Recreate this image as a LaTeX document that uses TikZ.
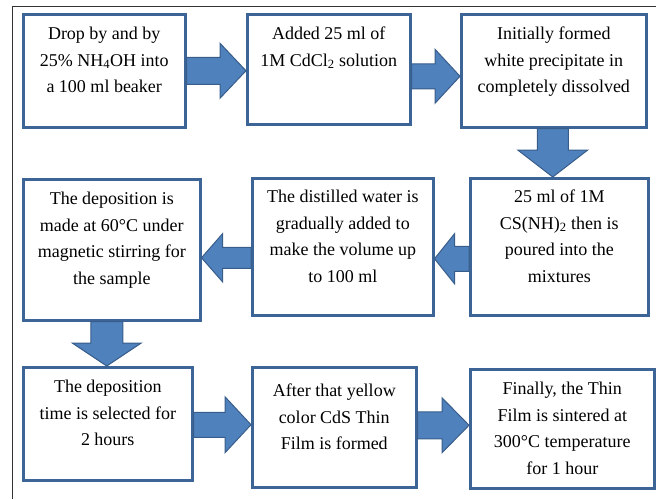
\documentclass[tikz,border=0pt]{standalone}
\usepackage{fontspec}
\setmainfont{Liberation Serif}
\usetikzlibrary{calc}
\definecolor{boxline}{HTML}{3C6497}
\definecolor{arrowblue}{HTML}{4F81BD}
\definecolor{arrowline}{HTML}{385D8A}

% 块状箭头: 起点, 终点, 箭杆半宽, 箭头半宽, 箭头长度
\newcommand{\blockarrow}[5]{%
    \path let \p1=(#1), \p2=(#2) in
        \pgfextra{\pgfmathsetmacro{\len}{veclen(\x2-\x1,\y2-\y1)}\xdef\arrlen{\len}%
                  \pgfmathsetmacro{\ang}{atan2(\y2-\y1,\x2-\x1)}\xdef\arrang{\ang}};
    \begin{scope}[shift={(#1)}, rotate=\arrang]
        \draw[block_arrow] (0pt,-#3pt) -- ({\arrlen pt-#5pt},-#3pt) -- ({\arrlen pt-#5pt},-#4pt)
            -- (\arrlen pt,0pt) -- ({\arrlen pt-#5pt},#4pt) -- ({\arrlen pt-#5pt},#3pt) -- (0pt,#3pt) -- cycle;
    \end{scope}
}

\begin{document}
\begin{tikzpicture}[x=1pt, y=-1pt]
        % ================= 样式定义 =================
        \tikzset{
            stepbox/.style={rectangle, draw=boxline, line width=2.5pt, fill=white, inner sep=0pt, anchor=north west},
            steptext/.style={anchor=north, align=center, inner sep=0pt, font=\fontsize{18}{26.5}\selectfont},
            block_arrow/.style={fill=arrowblue, draw=arrowline, line width=1pt, line join=miter},
            frame_line/.style={draw=black!80, line width=1pt}
        }
        \useasboundingbox (0,0) rectangle (656,499);

        % 外框 (只有上边和左边)
        \draw[frame_line] (12,499) -- (12,6) -- (656,6);

        % ================= 第一行 =================
        \node[stepbox, minimum width=162, minimum height=113] (b1) at (22,13) {};
        \node[stepbox, minimum width=163, minimum height=110] (b2) at (246,13) {};
        \node[stepbox, minimum width=185, minimum height=113] (b3) at (460,13) {};

        \node[steptext] (t1) at ($(b1.north)+(0,14)$) {Drop by and by\\25\% NH\textsubscript{4}OH into\\a 100 ml beaker};
        \node[steptext] (t2) at ($(b2.north)+(0,14)$) {Added 25 ml of\\1M CdCl\textsubscript{2} solution};
        \node[steptext] (t3) at ($(b3.north)+(0,14)$) {Initially formed\\white precipitate in\\completely dissolved};

        % ================= 第二行 =================
        \node[stepbox, minimum width=177, minimum height=141] (b4) at (22,178) {};
        \node[stepbox, minimum width=181, minimum height=137] (b5) at (251,177) {};
        \node[stepbox, minimum width=178, minimum height=137] (b6) at (469,177) {};

        \node[steptext] (t4) at ($(b4.north)+(0,14)$) {The deposition is\\made at 60°C under\\magnetic stirring for\\the sample};
        \node[steptext] (t5) at ($(b5.north)+(0,13)$) {The distilled water is\\gradually added to\\make the volume up\\to 100 ml};
        \node[steptext] (t6) at ($(b6.north)+(0,13)$) {25 ml of 1M\\CS(NH)\textsubscript{2} then is\\poured into the\\mixtures};

        % ================= 第三行 =================
        \node[stepbox, minimum width=169, minimum height=113] (b7) at (22,366) {};
        \node[stepbox, minimum width=164, minimum height=120] (b8) at (251,366) {};
        \node[stepbox, minimum width=184, minimum height=119] (b9) at (469,368) {};

        \node[steptext] (t7) at ($(b7.north)+(0,14)$) {The deposition\\time is selected for\\2 hours};
        \node[steptext] (t8) at ($(b8.north)+(0,18)$) {After that yellow\\color CdS Thin\\Film is formed};
        \node[steptext] (t9) at ($(b9.north)+(0,14)$) {Finally, the Thin\\Film is sintered at\\300°C temperature\\for 1 hour};

        % ================= 箭头 =================
        \coordinate (a1) at (b1.east);
        \coordinate (a2) at ($(b2.east)+(0,7)$);
        \coordinate (a3) at ($(b3.south)+(-1,0)$);
        \coordinate (a4) at ($(b6.west)+(0,12)$);
        \coordinate (a5) at ($(b5.west)+(0,11)$);
        \coordinate (a6) at ($(b4.south)+(-5,0)$);
        \coordinate (a7) at ($(b7.east)+(0,1)$);
        \coordinate (a8) at ($(b8.east)+(0,-2)$);

        \blockarrow{a1}{a1 -| b2.west}{13.5}{27.5}{26}
        \blockarrow{a2}{a2 -| b3.west}{12.5}{27}{25}
        \blockarrow{a3}{a3 |- b6.north}{15.5}{35}{27}
        \blockarrow{a4}{a4 -| b5.east}{12.5}{25}{20}
        \blockarrow{a5}{a5 -| b4.east}{10.5}{24}{21}
        \blockarrow{a6}{a6 |- b7.north}{16}{34.5}{23}
        \blockarrow{a7}{a7 -| b8.west}{12.5}{28}{26}
        \blockarrow{a8}{a8 -| b9.west}{13.5}{27.5}{27}

    \end{tikzpicture}
\end{document}
